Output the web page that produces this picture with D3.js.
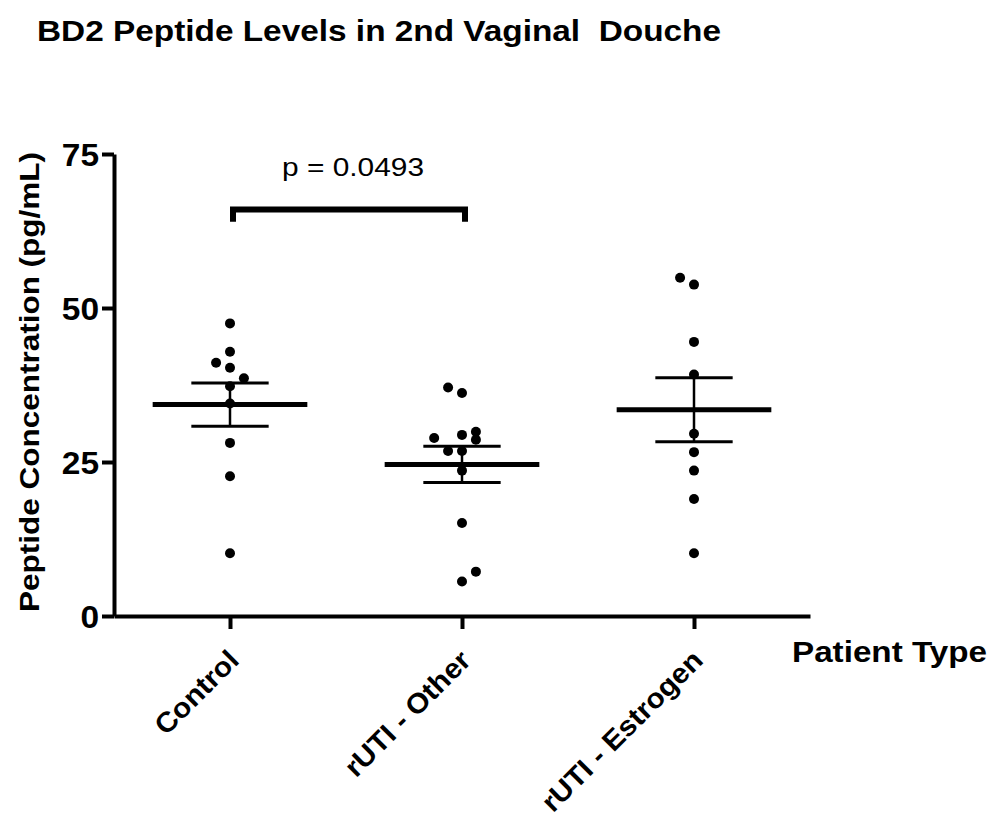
<!DOCTYPE html>
<html>
<head>
<meta charset="utf-8">
<script src="https://cdn.jsdelivr.net/npm/d3@7"></script>
<style>
  html, body { margin: 0; padding: 0; background: #fff; }
  svg { display: block; }
  text { font-family: "Liberation Sans", Arial, sans-serif; fill: #000; }
</style>
</head>
<body>
<script>
// ---- data ----
const categories = ["Control", "rUTI - Other", "rUTI - Estrogen"];
const controlValues  = [47.5, 42.9, 41.1, 40.3, 38.6, 37.3, 34.5, 28.1, 22.7, 10.2];
const controlSlots   = [0, 0, -1, 0, 1, 0, 0, 0, 0, 0];
const otherValues    = [37.1, 36.2, 29.9, 28.9, 29.4, 28.6, 26.8, 26.8, 23.6, 15.1, 7.2, 5.6];
const otherSlots     = [-1, 0, 1, -2, 0, 1, -1, 0, 0, 0, 1, 0];
const estrogenValues = [54.9, 53.8, 44.5, 39.2, 29.6, 26.6, 23.6, 19.0, 10.2];
const estrogenSlots  = [-1, 0, 0, 0, 0, 0, 0, 0, 0];
const yTicks = [0, 25, 50, 75];
const yDomain = [0, 75];
const comparisonPair = ["Control", "rUTI - Other"];
const comparisonLevel = [64, 66];   // leg bottom, bracket top
const comparisonLabel = "p = 0.0493";
const titleText = "BD2 Peptide Levels in 2nd Vaginal  Douche";
const yTitle = "Peptide Concentration (pg/mL)";
const xTitle = "Patient Type";

const groups = [
  { name: categories[0], values: controlValues, slots: controlSlots },
  { name: categories[1], values: otherValues, slots: otherSlots },
  { name: categories[2], values: estrogenValues, slots: estrogenSlots }
];

// ---- layout ----
const W = 996, H = 823;
const svg = d3.select("body").append("svg").attr("width", W).attr("height", H);

const x = d3.scalePoint().domain(categories).range([114, 810]).padding(0.5);
const y = d3.scaleLinear().domain(yDomain).range([616, 154]);
const slotW = x.step() * 0.06;

function stretch(sel, factor, fixed) {
  sel.each(function () {
    const n = this.getComputedTextLength();
    d3.select(this).attr("textLength", fixed || n * factor).attr("lengthAdjust", "spacingAndGlyphs");
  });
}

// title
svg.append("text").attr("x", 37).attr("y", 41)
  .style("font-size", "30px").style("font-weight", "bold")
  .attr("xml:space", "preserve")
  .text(titleText).call(stretch, 1, 684);

// y axis
const gy = svg.append("g").attr("transform", "translate(114,0)")
  .call(d3.axisLeft(y).tickValues(yTicks).tickSize(12).tickSizeOuter(0).tickPadding(3).tickFormat(d3.format("d")));
gy.select(".domain").attr("stroke", "#000").attr("stroke-width", 4);
gy.selectAll(".tick line").attr("stroke", "#000").attr("stroke-width", 4);
gy.selectAll(".tick text").style("font-size", "31px").style("font-weight", "bold")
  .attr("dy", "0.36em")
  .call(stretch, 1.08);

// x axis
const gx = svg.append("g").attr("transform", "translate(0,616)")
  .call(d3.axisBottom(x).tickSize(13).tickSizeOuter(0));
gx.select(".domain").attr("stroke", "#000").attr("stroke-width", 4);
gx.selectAll(".tick line").attr("stroke", "#000").attr("stroke-width", 4);
gx.selectAll(".tick text")
  .style("font-size", "28px").style("font-weight", "bold")
  .attr("x", 10).attr("y", 46).attr("dy", 0)
  .attr("text-anchor", "end")
  .attr("transform", "rotate(-45, 10, 46)")
  .call(stretch, 1.06);

// axis titles
svg.append("text").attr("transform", "translate(39,382) rotate(-90)")
  .attr("text-anchor", "middle")
  .style("font-size", "27px").style("font-weight", "bold")
  .text(yTitle).call(stretch, 1, 460);

svg.append("text").attr("x", 792).attr("y", 662)
  .style("font-size", "30px").style("font-weight", "bold")
  .text(xTitle).call(stretch, 1, 195);

// points
const plot = svg.append("g");
groups.forEach(g => {
  plot.append("g").selectAll("circle")
    .data(g.values.map((v, i) => ({ v, s: g.slots[i] })))
    .join("circle")
    .attr("cx", d => x(g.name) + d.s * slotW)
    .attr("cy", d => y(d.v))
    .attr("r", 5)
    .attr("fill", "#000");
});

// mean +/- SEM
groups.forEach(g => {
  const m = d3.mean(g.values);
  const sem = d3.deviation(g.values) / Math.sqrt(g.values.length);
  const cx = x(g.name);
  const half = x.step() / 3, capHalf = x.step() / 6;
  plot.append("line").attr("x1", cx).attr("x2", cx).attr("y1", y(m + sem)).attr("y2", y(m - sem))
    .attr("stroke", "#000").attr("stroke-width", 2.5);
  [m + sem, m - sem].forEach(v => {
    plot.append("line").attr("x1", cx - capHalf).attr("x2", cx + capHalf).attr("y1", y(v)).attr("y2", y(v))
      .attr("stroke", "#000").attr("stroke-width", 3);
  });
  plot.append("line").attr("x1", cx - half).attr("x2", cx + half).attr("y1", y(m)).attr("y2", y(m))
    .attr("stroke", "#000").attr("stroke-width", 5);
});

// significance bracket
const bx1 = x(comparisonPair[0]) + 3, bx2 = x(comparisonPair[1]) + 3;
svg.append("path")
  .attr("d", `M${bx1},${y(comparisonLevel[0])}V${y(comparisonLevel[1])}H${bx2}V${y(comparisonLevel[0])}`)
  .attr("fill", "none").attr("stroke", "#000").attr("stroke-width", 6)
  .attr("stroke-linejoin", "miter");
svg.append("text").attr("x", (bx1 + bx2) / 2 + 4).attr("y", 176)
  .attr("text-anchor", "middle")
  .style("font-size", "26px")
  .text(comparisonLabel).call(stretch, 1, 142);
</script>
</body>
</html>
